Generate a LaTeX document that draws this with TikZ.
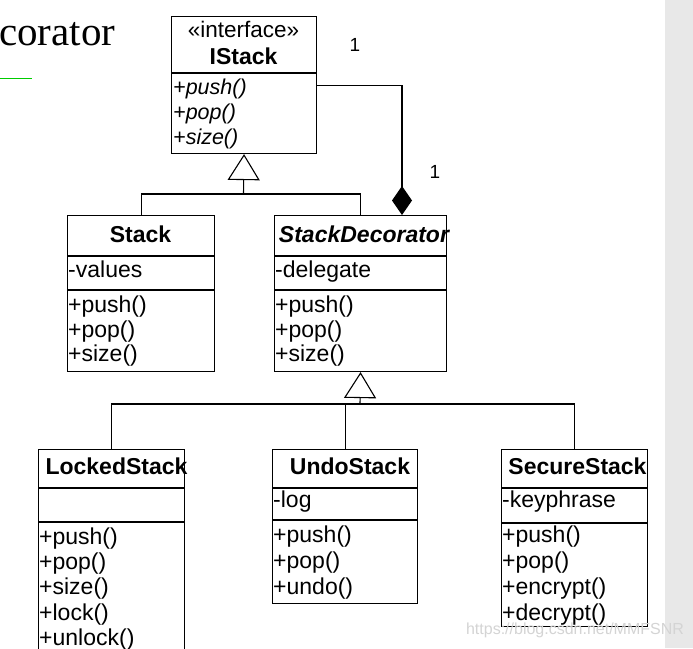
\documentclass[tikz,border=0pt]{standalone}
\usepackage{fontspec}
\setmainfont{Liberation Sans}
\newfontfamily\titleserif{Liberation Serif}
\usetikzlibrary{arrows.meta}
\definecolor{panelgray}{RGB}{232,232,232}
\definecolor{markgreen}{RGB}{0,204,0}
\definecolor{wmgray}{RGB}{212,212,212}

\begin{document}
\begin{tikzpicture}[x=1pt,y=-1pt,
    classbox/.style={draw,line width=1.1pt,rectangle,anchor=north west,inner sep=0pt},
    cname/.style={font=\fontsize{23}{26}\selectfont\bfseries,inner sep=0pt,anchor=mid,yshift=-5pt},
    member/.style={font=\fontsize{23}{26}\selectfont,inner sep=0pt,anchor=mid west,yshift=-5pt},
    absmember/.style={font=\fontsize{21.5}{25}\selectfont\itshape,inner sep=0pt,anchor=mid west,yshift=-5pt},
    mult/.style={font=\fontsize{19}{21}\selectfont,inner sep=0pt},
    inherit/.style={line width=1.1pt,-{Triangle[open,fill=white,length=26pt,width=32pt]}},
    owns/.style={line width=1.1pt,-{Diamond[length=29pt,width=20pt]}},
    divider/.style={line width=1.1pt}]
      \useasboundingbox (0,0) rectangle (693,648);
      \fill[white] (0,0) rectangle (693,648);
      \fill[panelgray] (665,0) rectangle (693,648);
      % slide title remains
      \node (title) at (-1,45) [anchor=base west,inner sep=0pt,font=\titleserif\fontsize{41}{44}\selectfont] {corator};
      \draw [markgreen,line width=1pt](0,78)--(32,78);
      % interface
      \node (IStack) at (171,16) [classbox,minimum width=145pt,minimum height=137pt] {};
      \draw [divider](171,73)--(316,73);
      \node (istereo) at (243.5,30) [member,anchor=mid,font=\fontsize{22.5}{25}\selectfont] {«interface»};
      \node (iname) at (243.5,57) [cname] {IStack};
      \node (ipush) at (173,87) [absmember] {+push()};
      \node (ipop) at (173,112) [absmember] {+pop()};
      \node (isize) at (173,137) [absmember] {+size()};
      % concrete stack
      \node (Stack) at (67,215) [classbox,minimum width=147pt,minimum height=156pt] {};
      \draw [divider](67,256)--(214,256);
      \draw [divider](67,290)--(214,290);
      \node (sname) at (140.5,235) [cname] {Stack};
      \node (sattr) at (68,270) [member] {-values};
      \node (spush) at (68,305) [member] {+push()};
      \node (spop) at (68,330) [member] {+pop()};
      \node (ssize) at (68,354) [member] {+size()};
      % decorator
      \node (StackDec) at (274,215) [classbox,minimum width=172pt,minimum height=156pt] {};
      \draw [divider](274,256)--(446,256);
      \draw [divider](274,290)--(446,290);
      \node (dname) at (364,235) [cname,font=\fontsize{23}{26}\selectfont\bfseries\itshape] {StackDecorator};
      \node (dattr) at (275,270) [member] {-delegate};
      \node (dpush) at (275,305) [member] {+push()};
      \node (dpop) at (275,330) [member] {+pop()};
      \node (dsize) at (275,354) [member] {+size()};
      % concrete decorators
      \node (Locked) at (38,449) [classbox,minimum width=146pt,minimum height=215pt] {};
      \draw [divider](38,488)--(184,488);
      \draw [divider](38,522)--(184,522);
      \node (lname) at (116.5,467) [cname] {LockedStack};
      \node (lpush) at (39,537) [member] {+push()};
      \node (lpop) at (39,562) [member] {+pop()};
      \node (lsize) at (39,587) [member] {+size()};
      \node (llock) at (39,613) [member] {+lock()};
      \node (lunlock) at (39,638) [member] {+unlock()};
      \node (Undo) at (272,449) [classbox,minimum width=145pt,minimum height=154pt] {};
      \draw [divider](272,488)--(417,488);
      \draw [divider](272,520)--(417,520);
      \node (uname) at (350,467) [cname] {UndoStack};
      \node (uattr) at (273,500) [member] {-log};
      \node (upush) at (273,535) [member] {+push()};
      \node (upop) at (273,561) [member] {+pop()};
      \node (uundo) at (273,587) [member] {+undo()};
      \node (Secure) at (501,449) [classbox,minimum width=146pt,minimum height=177pt] {};
      \draw [divider](501,488)--(647,488);
      \draw [divider](501,523)--(647,523);
      \node (sename) at (577.5,467) [cname] {SecureStack};
      \node (seattr) at (502,500) [member] {-keyphrase};
      \node (sepush) at (502,535) [member] {+push()};
      \node (sepop) at (502,561) [member] {+pop()};
      \node (seenc) at (502,587) [member] {+encrypt()};
      \node (sedec) at (502,613) [member] {+decrypt()};
      % generalisation
      \coordinate (gen1) at (243.5,194);
      \draw [line width=1.1pt](Stack.north)|-(gen1);
      \draw [line width=1.1pt](StackDec.north)|-(gen1);
      \draw [inherit](gen1)--(IStack.south);
      \coordinate (gen2) at (360,404);
      \draw [line width=1.1pt](Locked.north)|-(gen2);
      \draw [line width=1.1pt](Undo.north)|-(gen2);
      \draw [line width=1.1pt](Secure.north)|-(gen2);
      \draw [inherit](gen2)--(StackDec.south);
      % composition
      \coordinate (comp) at (402,215);
      \draw [owns](IStack.east)-|(comp);
      \node (m1) at (355,45) [mult] {1};
      \node (m2) at (435,172) [mult] {1};
      \node (wm) at (575,630) [inner sep=0pt,text=wmgray,font=\fontsize{16}{18}\selectfont] {https://blog.csdn.net/MMFSNR};
    \end{tikzpicture}
\end{document}
